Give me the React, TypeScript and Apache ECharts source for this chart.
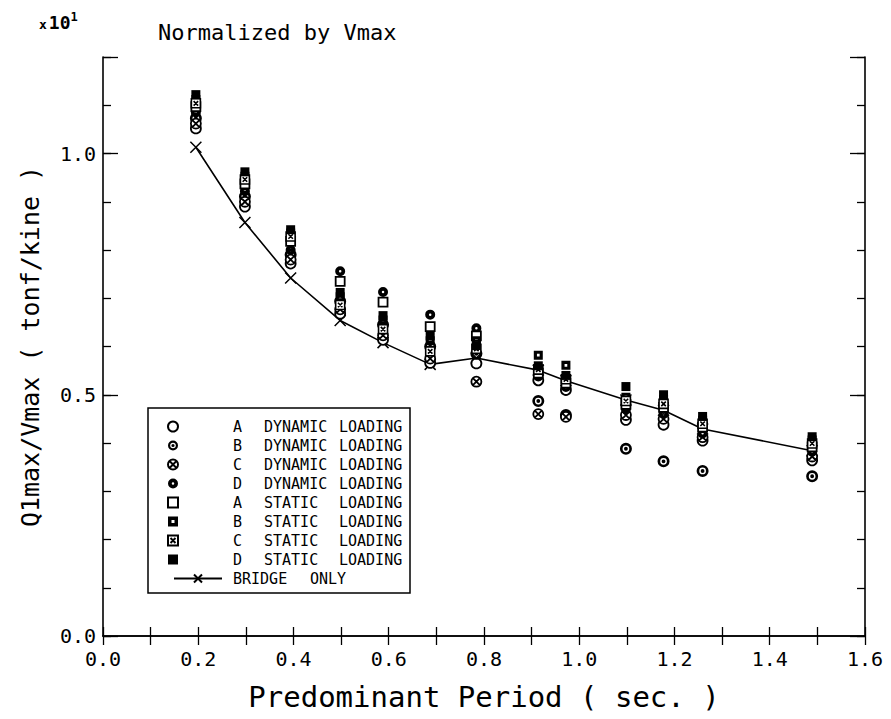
import React, { useEffect, useRef } from 'react';
import * as echarts from 'echarts';

// ---- data ----
const periods = [0.195, 0.298, 0.394, 0.498, 0.588, 0.687, 0.784, 0.914, 0.972, 1.098, 1.177, 1.259, 1.489];

const aDynamic = [1.052, 0.890, 0.772, 0.668, 0.614, 0.566, 0.565, 0.530, 0.510, 0.448, 0.438, 0.405, 0.364];
const bDynamic = [1.073, 0.911, 0.790, 0.694, 0.645, 0.600, 0.585, 0.487, 0.458, 0.388, 0.362, 0.342, 0.331];
const cDynamic = [1.062, 0.900, 0.780, 0.677, 0.623, 0.575, 0.527, 0.460, 0.454, 0.458, 0.450, 0.412, 0.372];
const dDynamic = [1.085, 0.922, 0.800, 0.756, 0.713, 0.666, 0.638, 0.538, 0.516, 0.470, 0.460, 0.420, 0.382];
const aStatic = [1.097, 0.937, 0.818, 0.735, 0.692, 0.641, 0.622, 0.545, 0.524, 0.480, 0.474, 0.433, 0.392];
const bStatic = [1.112, 0.953, 0.835, 0.703, 0.655, 0.612, 0.612, 0.582, 0.561, 0.495, 0.490, 0.447, 0.406];
const cStatic = [1.104, 0.946, 0.828, 0.686, 0.636, 0.590, 0.595, 0.552, 0.532, 0.487, 0.481, 0.440, 0.399];
const dStatic = [1.122, 0.962, 0.842, 0.712, 0.664, 0.622, 0.602, 0.560, 0.540, 0.517, 0.500, 0.455, 0.413];
const bridgeOnly = [1.013, 0.857, 0.742, 0.654, 0.608, 0.563, 0.576, 0.551, 0.529, 0.489, 0.468, 0.429, 0.384];

const xMin = 0, xMax = 1.6, xStep = 0.1;
const yMin = 0, yMax = 1.2, yStep = 0.1, yMajor = 0.5;

const titleText = 'Normalized by Vmax';
const xName = 'Predominant Period ( sec. )';
const yName = 'Q1max/Vmax ( tonf/kine )';

const MONO = "'DejaVu Sans Mono', 'Liberation Mono', monospace";
const K = '#000';

const CIRCLE = 'M10,0A10,10,0,1,1,-10,0A10,10,0,1,1,10,0Z';
const symbols = {
  aDyn: 'circle',
  bDyn: 'path://' + CIRCLE + 'M5.6,0A5.6,5.6,0,1,0,-5.6,0A5.6,5.6,0,1,0,5.6,0Z' + 'M3.2,0A3.2,3.2,0,1,1,-3.2,0A3.2,3.2,0,1,1,3.2,0Z',
  cDyn: 'path://' + CIRCLE + 'M-6.5,-6.5L6.5,6.5M6.5,-6.5L-6.5,6.5',
  dDyn: 'path://' + CIRCLE + 'M2.5,0A2.5,2.5,0,1,0,-2.5,0A2.5,2.5,0,1,0,2.5,0Z',
  aSta: 'rect',
  bSta: 'path://M0,0H20V20H0Z M7,7V13H13V7Z',
  cSta: 'path://M0,0H20V20H0Z M5,5L15,15M15,5L5,15',
  dSta: 'rect',
  cross: 'path://M0,0L10,10M10,0L0,10',
};

const markerSeries = [
  { name: 'A DYNAMIC LOADING', data: aDynamic, symbol: symbols.aDyn, size: 10, fill: '#fff', stroke: K, bw: 1.8 },
  { name: 'B DYNAMIC LOADING', data: bDynamic, symbol: symbols.bDyn, size: 12, fill: K, stroke: K, bw: 0 },
  { name: 'C DYNAMIC LOADING', data: cDynamic, symbol: symbols.cDyn, size: 10, fill: '#fff', stroke: K, bw: 1.8 },
  { name: 'D DYNAMIC LOADING', data: dDynamic, symbol: symbols.dDyn, size: 10, fill: K, stroke: K, bw: 0 },
  { name: 'A STATIC LOADING', data: aStatic, symbol: symbols.aSta, size: 9, fill: '#fff', stroke: K, bw: 1.8 },
  { name: 'B STATIC LOADING', data: bStatic, symbol: symbols.bSta, size: 9, fill: K, stroke: K, bw: 0 },
  { name: 'C STATIC LOADING', data: cStatic, symbol: symbols.cSta, size: 9, fill: '#fff', stroke: K, bw: 1.6 },
  { name: 'D STATIC LOADING', data: dStatic, symbol: symbols.dSta, size: 9, fill: K, stroke: K, bw: 0 },
];
const bridgeName = 'BRIDGE ONLY';

const richBase = { fontFamily: MONO, fontSize: 15, color: K, lineHeight: 14 };

export default function App() {
  const ref = useRef<HTMLDivElement>(null);
  useEffect(() => {
    document.body.style.margin = '0';
    if (!ref.current) return;
    const chart = echarts.init(ref.current, null, { renderer: 'svg' });

    const axisLine = { show: true, lineStyle: { color: K, width: 1.6 } };
    const tick = (len: number) => ({ show: true, inside: true, length: len, lineStyle: { color: K, width: 1.3 } });
    const baseX = { type: 'value', min: xMin, max: xMax, interval: xStep, splitLine: { show: false }, axisLine };
    const baseY = { type: 'value', min: yMin, max: yMax, splitLine: { show: false } };

    const option: any = {
      animation: false,
      backgroundColor: '#fff',
      title: [
        { text: titleText, left: 153, top: 16, textStyle: { fontFamily: MONO, fontSize: 22, fontWeight: 'normal', color: K } },
        {
          text: '{x|x}{n|10}{s|1}', left: 34, top: 6,
          textStyle: {
            rich: {
              x: { fontFamily: MONO, fontSize: 13, color: K, padding: [4, 2, 0, 0] },
              n: { fontFamily: MONO, fontSize: 18, color: K },
              s: { fontFamily: MONO, fontSize: 12, color: K, padding: [0, 0, 10, 0] },
            },
          },
        },
      ],
      grid: { left: 103, right: 26, top: 57, bottom: 83, containLabel: false },
      xAxis: [
        {
          ...baseX, position: 'bottom', axisTick: tick(9),
          axisLabel: {
            margin: 13, color: K, fontFamily: MONO, fontSize: 20,
            formatter: (v: number) => (Math.round(v * 10) % 2 === 0 ? v.toFixed(1) : ''),
          },
          name: xName, nameLocation: 'middle', nameGap: 46,
          nameTextStyle: { fontFamily: MONO, fontSize: 29, color: K },
        },
        { ...baseX, position: 'top', axisTick: tick(9), axisLabel: { show: false } },
      ],
      yAxis: [
        {
          ...baseY, interval: yStep, position: 'left', axisLine, axisTick: tick(8),
          axisLabel: {
            margin: 7, color: K, fontFamily: MONO, fontSize: 20,
            formatter: (v: number) => (Math.round(v * 10) % 5 === 0 ? v.toFixed(1) : ''),
          },
          name: yName, nameLocation: 'middle', nameGap: 60,
          nameTextStyle: { fontFamily: MONO, fontSize: 25, color: K },
        },
        { ...baseY, interval: yMajor, position: 'left', axisLine: { show: false }, axisTick: tick(15), axisLabel: { show: false } },
        { ...baseY, interval: yStep, position: 'right', axisLine, axisTick: tick(8), axisLabel: { show: false } },
        { ...baseY, interval: yMajor, position: 'right', axisLine: { show: false }, axisTick: tick(15), axisLabel: { show: false } },
      ],
      legend: [
        {
          data: markerSeries.map((s) => s.name),
          orient: 'vertical', left: 167, top: 419, padding: 0,
          itemWidth: 10, itemHeight: 10, itemGap: 4,
          selectedMode: false,
          textStyle: {
            ...richBase,
            rich: {
              sp: { ...richBase, width: 50 },
              a: { ...richBase, width: 31 },
              b: { ...richBase, width: 75 },
              c: { ...richBase },
            },
          },
          formatter: (name: string) => {
            const [l, t, w] = name.split(' ');
            return `{sp| }{a|${l}}{b|${t}}{c|${w}}`;
          },
          z: 10,
        },
        {
          data: [bridgeName],
          orient: 'vertical', left: 173, top: 571, padding: 0,
          itemWidth: 48, itemHeight: 10, itemGap: 4,
          selectedMode: false,
          textStyle: {
            ...richBase,
            rich: {
              sp: { ...richBase, width: 6 },
              b: { ...richBase, width: 77 },
              c: { ...richBase },
            },
          },
          formatter: (name: string) => {
            const [b, o] = name.split(' ');
            return `{sp| }{b|${b}}{c|${o}}`;
          },
          z: 10,
        },
      ],
      graphic: [
        {
          type: 'rect', z: 5,
          shape: { x: 148, y: 408, width: 262, height: 185 },
          style: { fill: '#fff', stroke: K, lineWidth: 1.5 },
        },
      ],
      series: [
        {
          name: bridgeName, type: 'line', z: 2,
          data: periods.map((p, i) => [p, bridgeOnly[i]]),
          symbol: symbols.cross, symbolSize: 11, showAllSymbol: true,
          lineStyle: { color: K, width: 1.6 },
          itemStyle: { color: K, borderColor: K, borderWidth: 1.5 },
          emphasis: { disabled: true },
        },
        ...markerSeries.map((s) => ({
          name: s.name, type: 'scatter', z: 3,
          data: periods.map((p, i) => [p, s.data[i]]),
          symbol: s.symbol, symbolSize: s.size,
          itemStyle: { color: s.fill, borderColor: s.stroke, borderWidth: s.bw, opacity: 1 },
          emphasis: { disabled: true },
        })),
      ],
    };
    chart.setOption(option);
    return () => chart.dispose();
  }, []);
  return <div ref={ref} style={{ width: 891, height: 719 }} />;
}
